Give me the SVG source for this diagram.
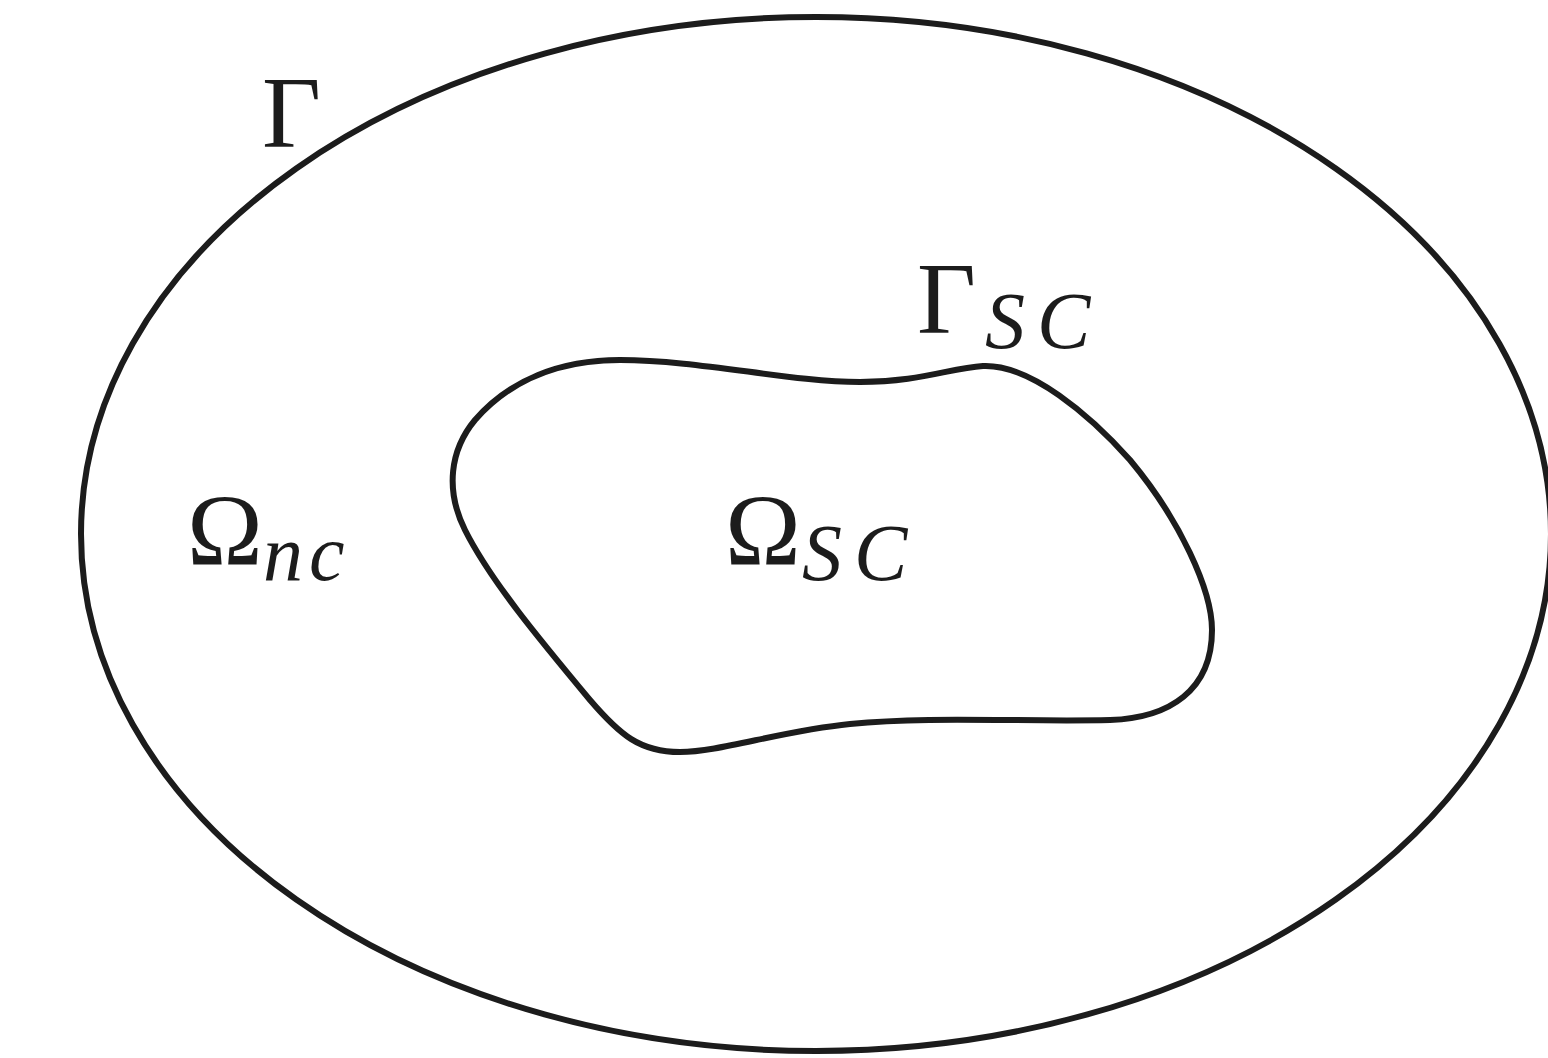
<svg xmlns="http://www.w3.org/2000/svg" width="1548" height="1058" viewBox="0 0 1548 1058">
<style>
.curve{fill:none;stroke:#1c1c1c;stroke-width:6}
.m{font-family:"Liberation Serif","DejaVu Serif",serif;font-size:102px;fill:#1c1c1c}
.s{font-family:"Liberation Serif","DejaVu Serif",serif;font-style:italic;font-size:80px;fill:#1c1c1c}
</style>
<rect width="1548" height="1058" fill="#ffffff"/>
<g id="outer-domain">
<ellipse class="curve" cx="816" cy="534" rx="735" ry="517"/>
<text class="m" x="262" y="147">Γ</text>
</g>
<g id="inner-domain">
<path class="curve" d="M 620 360 C 700 360, 790 382, 860 382 C 920 382, 950 368, 983 366 C 1030 364, 1090 415, 1130 460 C 1180 520, 1212 590, 1212 630 C 1212 690, 1170 718, 1110 720 C 1020 722, 930 716, 850 724 C 780 731, 720 752, 680 752 C 640 752, 620 735, 590 700 C 540 640, 490 580, 465 530 C 445 490, 450 450, 475 420 C 510 380, 560 360, 620 360 Z"/>
<text x="917" y="333"><tspan class="m">Γ</tspan><tspan class="s" x="985" y="348" letter-spacing="12">SC</tspan></text>
<text x="725" y="565"><tspan class="m">Ω</tspan><tspan class="s" x="802" y="580" letter-spacing="12">SC</tspan></text>
</g>
<g id="nc-label">
<text x="187" y="565"><tspan class="m">Ω</tspan><tspan class="s" x="263" y="580" letter-spacing="6">nc</tspan></text>
</g>
<g id="connectors"/>
</svg>
